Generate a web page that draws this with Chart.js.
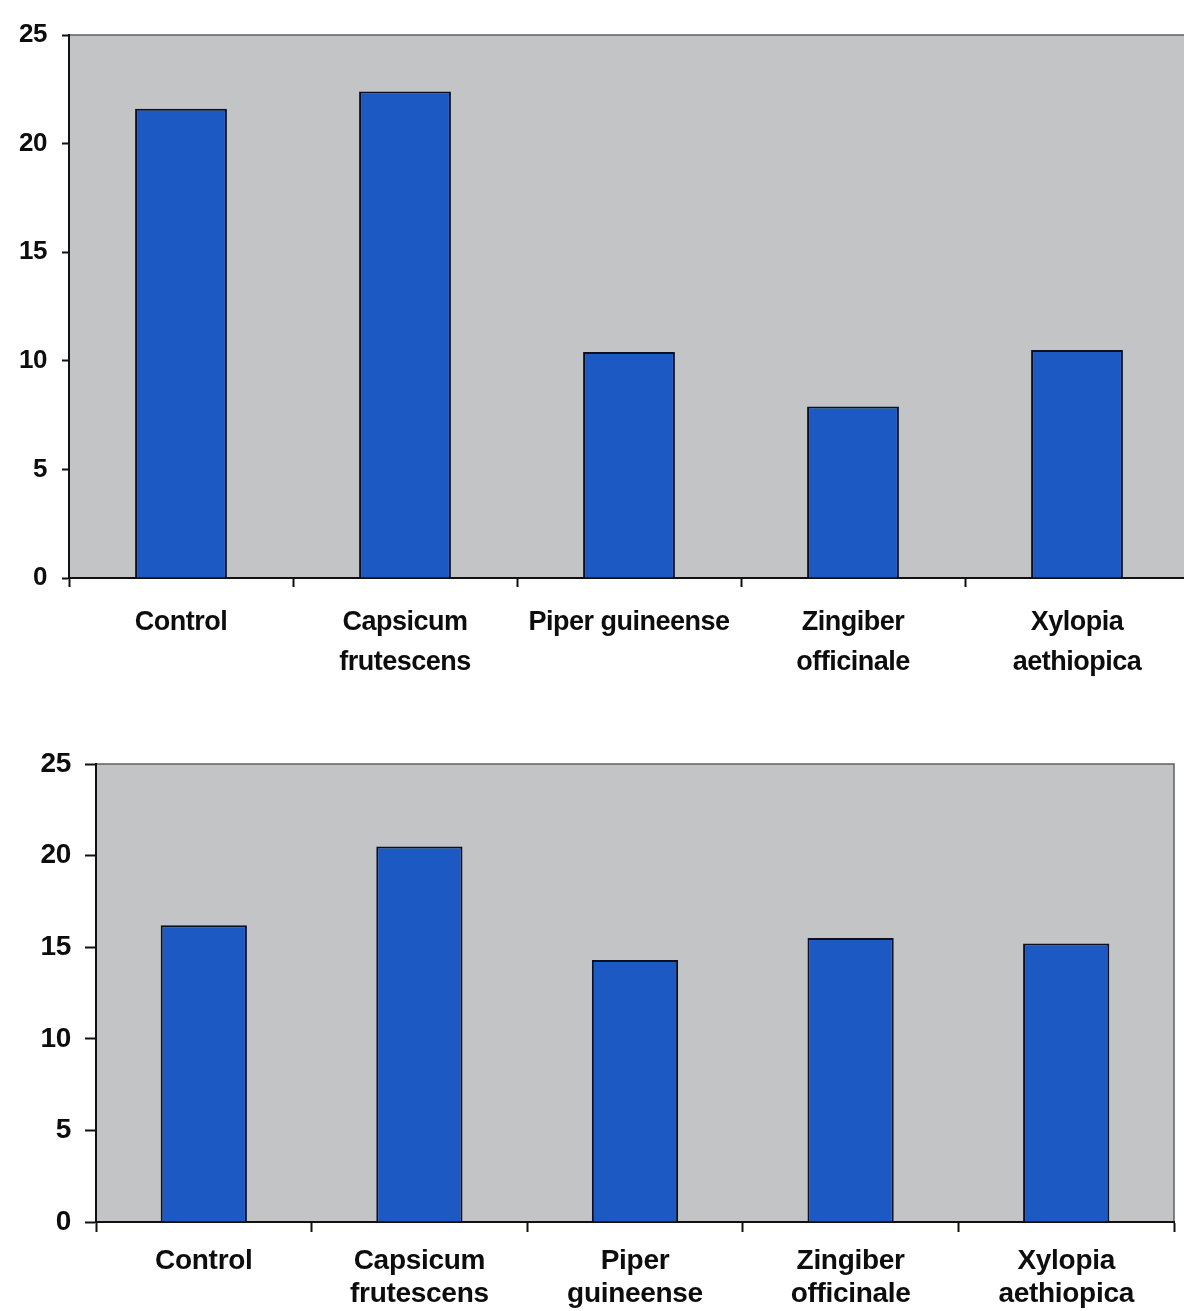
<!DOCTYPE html>
<html>
<head>
<meta charset="utf-8">
<script src="https://cdn.jsdelivr.net/npm/chart.js@4.4.0/dist/chart.umd.min.js"></script>
<style>
  html, body { margin: 0; padding: 0; background: #ffffff; overflow: hidden; }
  body { width: 1184px; height: 1311px; position: relative; }
  .box { position: absolute; left: 0; }
  #topBox { top: 0; width: 1192px; height: 700px; }
  #bottomBox { top: 700px; width: 1184px; height: 611px; }
</style>
</head>
<body>
<div class="box" id="topBox"><canvas id="chartTop"></canvas></div>
<div class="box" id="bottomBox"><canvas id="chartBottom"></canvas></div>
<script>
// Spice treatments (category labels, split into lines as printed)
const topCategories = [
  ["Control"],
  ["Capsicum", "frutescens"],
  ["Piper guineense"],
  ["Zingiber", "officinale"],
  ["Xylopia", "aethiopica"]
];
const bottomCategories = [
  ["Control"],
  ["Capsicum", "frutescens"],
  ["Piper", "guineense"],
  ["Zingiber", "officinale"],
  ["Xylopia", "aethiopica"]
];

// Measured values per treatment
const topValues = [21.6, 22.4, 10.4, 7.9, 10.5];
const bottomValues = [16.2, 20.5, 14.3, 15.5, 15.2];

// Value axis ticks
const yMin = 0;
const yMax = 25;
const yStep = 5;

const FONT = "'Liberation Sans', Arial, Helvetica, sans-serif";
const BAR_BLUE = "#1c59c3";
const PLOT_GREY = "#c3c4c6";

// Fill the plot area grey and outline it with a thin dark frame;
// also tighten letter spacing of the heavy bold labels
const plotBackground = {
  id: "plotBackground",
  beforeDraw(chart) {
    const { ctx, chartArea: a } = chart;
    ctx.save();
    ctx.fillStyle = PLOT_GREY;
    ctx.fillRect(a.left, a.top, a.right - a.left, a.bottom - a.top);
    ctx.strokeStyle = "#5f5f5f";
    ctx.lineWidth = 1.5;
    ctx.strokeRect(a.left, a.top, a.right - a.left, a.bottom - a.top);
    ctx.restore();
    ctx.letterSpacing = chart.options.plugins.plotBackground.spacing;
  }
};

function makeChart(id, labels, values, cfg) {
  return new Chart(document.getElementById(id), {
    type: "bar",
    data: {
      labels: labels,
      datasets: [{
        data: values,
        backgroundColor: BAR_BLUE,
        borderColor: "#0b0f24",
        borderWidth: 2,
        borderSkipped: "bottom",
        categoryPercentage: 1.0,
        barPercentage: cfg.barPct
      }]
    },
    options: {
      responsive: true,
      maintainAspectRatio: false,
      animation: false,
      layout: { padding: cfg.padding },
      plugins: {
        legend: { display: false },
        tooltip: { enabled: false },
        plotBackground: { spacing: cfg.spacing }
      },
      scales: {
        x: {
          grid: {
            offset: true,
            drawOnChartArea: false,
            drawTicks: true,
            tickLength: cfg.xTick,
            tickColor: "#111111",
            tickWidth: 2
          },
          border: { color: "#111111", width: 2 },
          ticks: {
            color: "#0d0d0d",
            padding: cfg.xPad,
            maxRotation: 0,
            autoSkip: false,
            font: { family: FONT, size: cfg.xFont, weight: "bold", lineHeight: cfg.xLine }
          },
          afterFit(scale) { scale.height = cfg.xHeight; }
        },
        y: {
          min: yMin,
          max: yMax,
          ticks: {
            stepSize: yStep,
            color: "#0d0d0d",
            padding: cfg.yPad,
            font: { family: FONT, size: cfg.yFont, weight: "bold" }
          },
          grid: {
            drawOnChartArea: false,
            drawTicks: true,
            tickLength: cfg.yTick,
            tickColor: "#111111",
            tickWidth: 2
          },
          border: { color: "#111111", width: 2 },
          afterFit(scale) { scale.width = cfg.yWidth; }
        }
      }
    },
    plugins: [plotBackground]
  });
}

makeChart("chartTop", topCategories, topValues, {
  padding: { left: 0, right: 3, top: 35, bottom: 0 },
  yWidth: 69, xHeight: 122,
  xTick: 9, yTick: 7, xPad: 15, yPad: 15,
  xFont: 27, xLine: 1.5, yFont: 26, spacing: "-0.5px",
  barPct: 0.41
});

makeChart("chartBottom", bottomCategories, bottomValues, {
  padding: { left: 0, right: 10, top: 64, bottom: 0 },
  yWidth: 96, xHeight: 89,
  xTick: 10, yTick: 11, xPad: 13, yPad: 14,
  xFont: 28, xLine: 1.18, yFont: 28, spacing: "-0.3px",
  barPct: 0.40
});
</script>
</body>
</html>
